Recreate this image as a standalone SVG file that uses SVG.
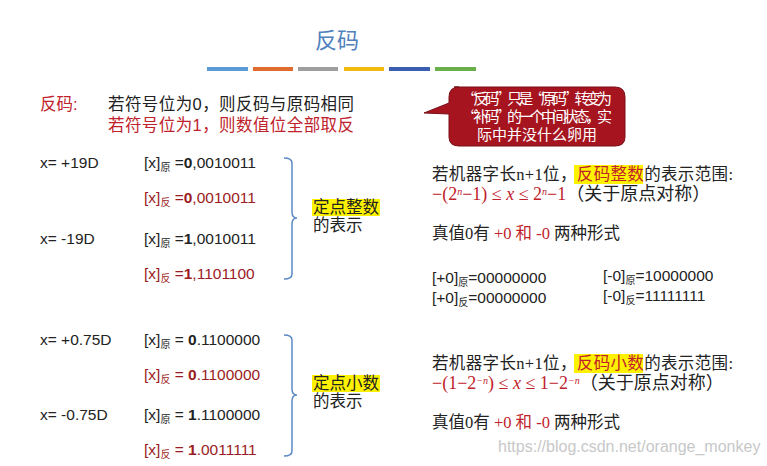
<svg xmlns="http://www.w3.org/2000/svg" width="767" height="466" viewBox="0 0 767 466">
<style>
text{font-family:"Liberation Sans","Noto Sans CJK SC",sans-serif;font-size:15.5px;fill:#222}
.s{font-family:"Liberation Serif","Noto Sans CJK SC",serif;font-size:16.5px}
.f{font-size:18px}
.r{fill:#c0222b}
.d{fill:#9b1c22}
.sub{font-size:10px}
.b{font-weight:bold}
.br{fill:none;stroke:#5b8ac4;stroke-width:1.5}
.hl{fill:#fff200}
.c{fill:#fff;font-size:15px;font-family:"Noto Sans CJK SC",sans-serif}
</style>
<rect width="767" height="466" fill="#fff"/>
<text x="337" y="48" text-anchor="middle" style="font-size:22px;fill:#4f81bd">反码</text>
<g>
<rect x="207" y="67" width="41" height="4" fill="#5b9bd5"/>
<rect x="253" y="67" width="40" height="4" fill="#e06b2e"/>
<rect x="298" y="67" width="40" height="4" fill="#9e9e9e"/>
<rect x="344" y="67" width="40" height="4" fill="#f2b90f"/>
<rect x="389" y="67" width="41" height="4" fill="#3a5fb0"/>
<rect x="435" y="67" width="41" height="4" fill="#6ab04a"/>
</g>
<text x="40" y="110" class="r" style="font-size:16.5px">反码:</text>
<text x="108" y="110" style="font-size:16.5px" textLength="246">若符号位为0，则反码与原码相同</text>
<text x="108" y="131" class="r" style="font-size:16.5px" textLength="246">若符号位为1，则数值位全部取反</text>
<g id="callout">
<path d="M454 87 H615 Q625 87 625 97 V137 Q625 146 615 146 H459 Q449 146 449 137 V114 L424 113 L449 103 V97 Q449 87 459 87 Z" fill="#a6151f" stroke="#7a0e16"/>
<text x="462" y="104" class="c" textLength="150">“反码”只是“原码”转变为</text>
<text x="462" y="122" class="c" textLength="150">“补码”的一个中间状态，实</text>
<text x="537" y="140" text-anchor="middle" class="c">际中并没什么卵用</text>
</g>
<text x="40" y="168">x= +19D</text>
<text x="40" y="244">x= -19D</text>
<text x="144" y="168">[x]<tspan class="sub" dy="3">原</tspan><tspan dy="-3"> =</tspan><tspan class="b">0</tspan>,0010011</text>
<text x="144" y="203" class="d">[x]<tspan class="sub d" dy="3">反</tspan><tspan dy="-3"> =</tspan><tspan class="b">0</tspan>,0010011</text>
<text x="144" y="244">[x]<tspan class="sub" dy="3">原</tspan><tspan dy="-3"> =</tspan><tspan class="b">1</tspan>,0010011</text>
<text x="144" y="279" class="d">[x]<tspan class="sub d" dy="3">反</tspan><tspan dy="-3"> =</tspan><tspan class="b">1</tspan>,1101100</text>
<path class="br" d="M284 158 Q292 158 292 163 V212 Q292 218 297 218 Q292 218 292 224 V274 Q292 279 284 279"/>
<rect x="312" y="199" width="68" height="17" class="hl"/>
<text x="313" y="213" style="font-size:16.5px">定点整数</text>
<text x="313" y="231" style="font-size:16.5px">的表示</text>
<text x="40" y="345">x= +0.75D</text>
<text x="40" y="420">x= -0.75D</text>
<text x="144" y="345">[x]<tspan class="sub" dy="3">原</tspan><tspan dy="-3"> = </tspan><tspan class="b">0</tspan>.1100000</text>
<text x="144" y="380" class="d">[x]<tspan class="sub d" dy="3">反</tspan><tspan dy="-3"> = </tspan><tspan class="b">0</tspan>.1100000</text>
<text x="144" y="420">[x]<tspan class="sub" dy="3">原</tspan><tspan dy="-3"> = </tspan><tspan class="b">1</tspan>.1100000</text>
<text x="144" y="455" class="d">[x]<tspan class="sub d" dy="3">反</tspan><tspan dy="-3"> = </tspan><tspan class="b">1</tspan>.0011111</text>
<path class="br" d="M284 335 Q292 335 292 340 V389 Q292 395 297 395 Q292 395 292 401 V451 Q292 456 284 456"/>
<rect x="312" y="375" width="68" height="17" class="hl"/>
<text x="313" y="389" style="font-size:16.5px">定点小数</text>
<text x="313" y="407" style="font-size:16.5px">的表示</text>
<rect x="574" y="165" width="69" height="19" class="hl"/>
<text x="432" y="180" class="s" textLength="301">若机器字长n+1位，<tspan class="r">反码整数</tspan>的表示范围:</text>
<text x="432" y="200" class="s f"><tspan class="r">−(2<tspan dy="-5" style="font-size:10px;font-style:italic">n</tspan><tspan dy="5">−1) ≤ </tspan><tspan style="font-style:italic">x</tspan> ≤ 2<tspan dy="-5" style="font-size:10px;font-style:italic">n</tspan><tspan dy="5">−1</tspan></tspan>（关于原点对称）</text>
<text x="432" y="239" class="s">真值0有 <tspan class="r">+0 和 -0</tspan> 两种形式</text>
<text x="432" y="283">[+0]<tspan class="sub" dy="3">原</tspan><tspan dy="-3">=00000000</tspan></text>
<text x="432" y="303">[+0]<tspan class="sub" dy="3">反</tspan><tspan dy="-3">=00000000</tspan></text>
<text x="603" y="281">[-0]<tspan class="sub" dy="3">原</tspan><tspan dy="-3">=10000000</tspan></text>
<text x="603" y="301">[-0]<tspan class="sub" dy="3">反</tspan><tspan dy="-3">=11111111</tspan></text>
<rect x="574" y="354" width="69" height="19" class="hl"/>
<text x="432" y="369" class="s" textLength="301">若机器字长n+1位，<tspan class="r">反码小数</tspan>的表示范围:</text>
<text x="432" y="389" class="s f"><tspan class="r">−(1−2<tspan dy="-5" style="font-size:10px;font-style:italic">−n</tspan><tspan dy="5">) ≤ </tspan><tspan style="font-style:italic">x</tspan> ≤ 1−2<tspan dy="-5" style="font-size:10px;font-style:italic">−n</tspan></tspan><tspan dy="5">（关于原点对称）</tspan></text>
<text x="432" y="428" class="s">真值0有 <tspan class="r">+0 和 -0</tspan> 两种形式</text>
<text x="498" y="452" style="font-size:16px;fill:#c8c8c8">https://blog.csdn.net/orange_monkey</text>
</svg>
